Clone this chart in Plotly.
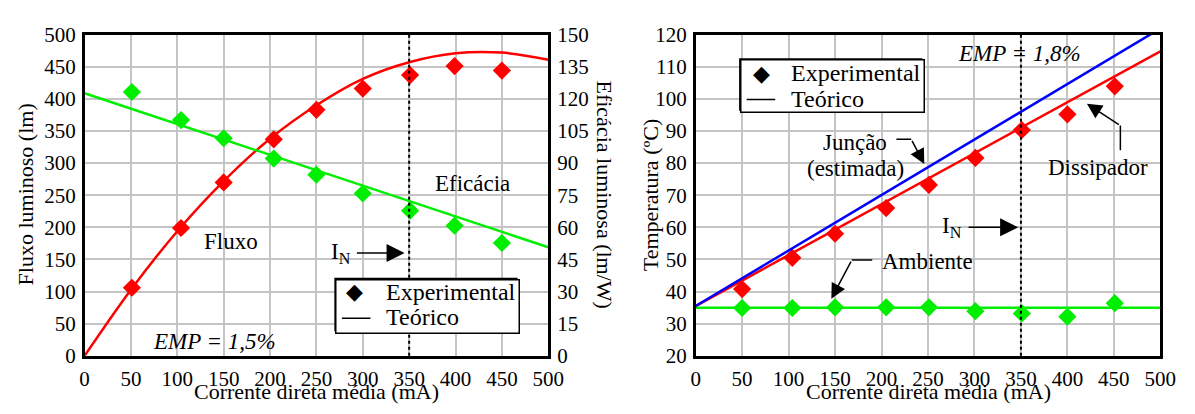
import plotly.graph_objects as go

# ---- Fluxo / eficácia luminosa versus corrente ----
corrente_exp = [51, 104, 150, 204, 250, 300, 351, 399, 450]
fluxo_exp = [106, 199, 270, 337, 383, 416, 437, 451, 444]
eficacia_exp = [123.2, 110.1, 101.6, 92.1, 84.6, 75.8, 67.8, 60.8, 52.7]

corrente_teo = [0, 50, 100, 150, 200, 250, 300, 350, 400, 450, 500]
fluxo_teo = [0, 103, 194, 272, 338, 390, 431, 457, 471, 472, 461]
eficacia_teo = [122.6, 115.4, 108.2, 101.0, 93.8, 86.6, 79.5, 72.3, 65.1, 57.9, 50.7]

# ---- Temperaturas versus corrente ----
corrente_temp = [50, 104, 150, 205, 251, 301, 351, 400, 451]
dissipador_exp = [40.8, 50.5, 58.0, 66.0, 73.2, 81.6, 90.3, 95.2, 103.9]
ambiente_exp = [34.9, 34.9, 35.1, 35.1, 35.1, 33.9, 33.2, 32.2, 36.4]

corrente_temp_teo = [0, 100, 200, 300, 400, 500]
juncao_teo = [35.5, 52.8, 70.1, 87.3, 104.6, 121.9]
dissipador_teo = [35.5, 51.4, 67.2, 83.1, 98.9, 114.8]
ambiente_teo = [35.0, 35.0, 35.0, 35.0, 35.0, 35.0]

corrente_nominal = 350

FONT = "Liberation Serif"
RED = "#ff0000"
GREEN = "#00ee00"
BLUE = "#0000ff"
GRID = "#c4c4c4"
W, H = 1195, 414


def px(x):
    return x / W


def py(y):
    return 1 - y / H


fig = go.Figure()

diamond = dict(symbol="diamond", size=14)

# Left panel
fig.add_trace(go.Scatter(x=corrente_teo, y=fluxo_teo, mode="lines", line=dict(color=RED, width=2.5, shape="spline"),
                         xaxis="x", yaxis="y", showlegend=False))
fig.add_trace(go.Scatter(x=corrente_exp, y=fluxo_exp, mode="markers", marker=dict(color=RED, **diamond),
                         xaxis="x", yaxis="y", showlegend=False))
fig.add_trace(go.Scatter(x=corrente_teo, y=eficacia_teo, mode="lines", line=dict(color=GREEN, width=2.5),
                         xaxis="x", yaxis="y2", showlegend=False))
fig.add_trace(go.Scatter(x=corrente_exp, y=eficacia_exp, mode="markers", marker=dict(color=GREEN, **diamond),
                         xaxis="x", yaxis="y2", showlegend=False))

# Right panel
fig.add_trace(go.Scatter(x=corrente_temp_teo, y=ambiente_teo, mode="lines", line=dict(color=GREEN, width=2.5),
                         xaxis="x2", yaxis="y3", showlegend=False))
fig.add_trace(go.Scatter(x=corrente_temp, y=ambiente_exp, mode="markers", marker=dict(color=GREEN, **diamond),
                         xaxis="x2", yaxis="y3", showlegend=False))
fig.add_trace(go.Scatter(x=corrente_temp_teo, y=dissipador_teo, mode="lines", line=dict(color=RED, width=2.5),
                         xaxis="x2", yaxis="y3", showlegend=False))
fig.add_trace(go.Scatter(x=corrente_temp, y=dissipador_exp, mode="markers", marker=dict(color=RED, **diamond),
                         xaxis="x2", yaxis="y3", showlegend=False))
fig.add_trace(go.Scatter(x=corrente_temp_teo, y=juncao_teo, mode="lines", line=dict(color=BLUE, width=2.5),
                         xaxis="x2", yaxis="y3", showlegend=False))

dom_y = [py(365), py(24)]
dom_x1 = [px(81), px(553)]
dom_x2 = [px(703), px(1176)]

tickfont = dict(family=FONT, size=21, color="black")
axis_common = dict(showgrid=True, gridcolor=GRID, gridwidth=2, showline=True, linecolor="black", linewidth=2.5,
                   ticks="", zeroline=False, tickfont=tickfont)

fig.update_layout(
    width=W, height=H, margin=dict(l=0, r=0, t=0, b=0),
    paper_bgcolor="white", plot_bgcolor="white", showlegend=False,
    font=dict(family=FONT, size=22, color="black"),
    xaxis=dict(domain=dom_x1, range=[0, 500], dtick=50, mirror=True, anchor="y", ticklabelstandoff=2,
               **axis_common),
    yaxis=dict(domain=dom_y, range=[0, 500], dtick=50, mirror=True, anchor="x", ticklabelstandoff=2,
               **axis_common),
    yaxis2=dict(overlaying="y", side="right", range=[0, 150], dtick=15, anchor="x", showgrid=False,
                showline=True, linecolor="black", linewidth=2.5, ticks="", zeroline=False, tickfont=tickfont,
                ticklabelstandoff=2),
    xaxis2=dict(domain=dom_x2, range=[0, 500], dtick=50, mirror=True, anchor="y3", ticklabelstandoff=2,
                **axis_common),
    yaxis3=dict(domain=dom_y, range=[20, 120], dtick=10, mirror=True, anchor="x2", ticklabelstandoff=2,
                **axis_common),
)

# Nominal current markers
fig.add_shape(type="line", xref="x", yref="y domain", x0=corrente_nominal, x1=corrente_nominal, y0=0, y1=1,
              line=dict(color="black", width=2, dash="3px,3px"))
fig.add_shape(type="line", xref="x2", yref="y3 domain", x0=corrente_nominal, x1=corrente_nominal, y0=0, y1=1,
              line=dict(color="black", width=2, dash="3px,3px"))

ann = []


def text(x, y, s, xref, yref, size=23, family=FONT, **kw):
    ann.append(dict(x=x, y=y, text=s, xref=xref, yref=yref, showarrow=False,
                    yanchor="middle", font=dict(family=family, size=size, color="black"),
                    **({"xanchor": "center"} | kw)))


def arrow(x, y, ax, ay, xref, yref, size=2.4):
    ann.append(dict(x=x, y=y, ax=ax, ay=ay, xref=xref, yref=yref, axref=xref, ayref=yref, text="",
                    showarrow=True, arrowhead=2, arrowsize=size, arrowwidth=1.5, arrowcolor="black"))


def seg(x0, y0, x1, y1, xref, yref):
    fig.add_shape(type="line", xref=xref, yref=yref, x0=x0, y0=y0, x1=x1, y1=y1,
                  line=dict(color="black", width=1.5))


# Legend boxes: white framed panel with a black diamond key and a black line key
def legend_box(x0, y0, x1, y1, dx, dy, lx0, lx1, ly, tx, ty1, ty2):
    fig.add_shape(type="rect", xref="paper", yref="paper", x0=px(x0), y0=py(y1), x1=px(x1), y1=py(y0),
                  fillcolor="white", line=dict(color="black", width=1.5), layer="above")
    ann.append(dict(x=px(x0), y=py(y0), xref="paper", yref="paper", xanchor="left", yanchor="top",
                    text=" ", showarrow=False, width=x1 - x0 - 3, height=y1 - y0 - 3, borderpad=0,
                    bgcolor="white", bordercolor="black", borderwidth=1.5))
    text(px(dx), py(dy), "◆", "paper", "paper", size=22, family="DejaVu Sans")
    ann.append(dict(x=px(lx1), y=py(ly), xref="paper", yref="paper", axref="pixel", ayref="pixel",
                    ax=-(lx1 - lx0), ay=0, text="", showarrow=True, arrowhead=0, arrowwidth=1.5,
                    arrowcolor="black", standoff=0, startstandoff=0))
    text(px(tx), py(ty1), "Experimental", "paper", "paper", size=24, xanchor="left")
    text(px(tx), py(ty2), "Teórico", "paper", "paper", size=24, xanchor="left")


legend_box(336, 283, 521, 338, 356, 297, 342, 372, 325, 386, 297, 324)
legend_box(748, 50, 933, 104, 770, 65, 754, 784, 93, 798, 65, 92)

# Axis titles
text(px(317), py(403), "Corrente direta média (mA)", "paper", "paper", size=22)
text(px(940), py(403), "Corrente direta média (mA)", "paper", "paper", size=22)
text(px(21), py(194), "Fluxo luminoso (lm)", "paper", "paper", size=22, textangle=-90)
text(px(610), py(194), "Eficácia luminosa (lm/W)", "paper", "paper", size=22, textangle=90)
text(px(657), py(194), "Temperatura (ºC)", "paper", "paper", size=22, textangle=-90)

# Left panel labels
text(158, 178, "Fluxo", "x", "y")
text(418, 268, "Eficácia", "x", "y")
text(140, 23, "<i>EMP = 1,5%</i>", "x", "y")
text(276, 160, "I<sub>N</sub>", "x", "y")
arrow(345, 160, 292, 160, "x", "y")

# Right panel labels
text(348, 114, "<i>EMP = 1,8%</i>", "x2", "y3")
text(276, 60, "I<sub>N</sub>", "x2", "y3")
arrow(347, 60, 292, 60, "x2", "y3")
text(172, 86.4, "Junção", "x2", "y3")
text(172, 78.3, "(estimada)", "x2", "y3")
seg(216, 87.4, 232, 87.4, "x2", "y3")
arrow(246, 79.7, 232, 87.4, "x2", "y3", size=2.0)
text(433, 78.7, "Dissipador", "x2", "y3")
seg(457, 84, 457, 91.7, "x2", "y3")
arrow(421, 98.5, 457, 91.7, "x2", "y3", size=2.0)
text(250, 49.3, "Ambiente", "x2", "y3")
seg(190, 49.8, 168, 49.8, "x2", "y3")
arrow(146, 37.8, 168, 49.8, "x2", "y3", size=2.0)

fig.update_layout(annotations=ann)

fig.write_html("out.html")
